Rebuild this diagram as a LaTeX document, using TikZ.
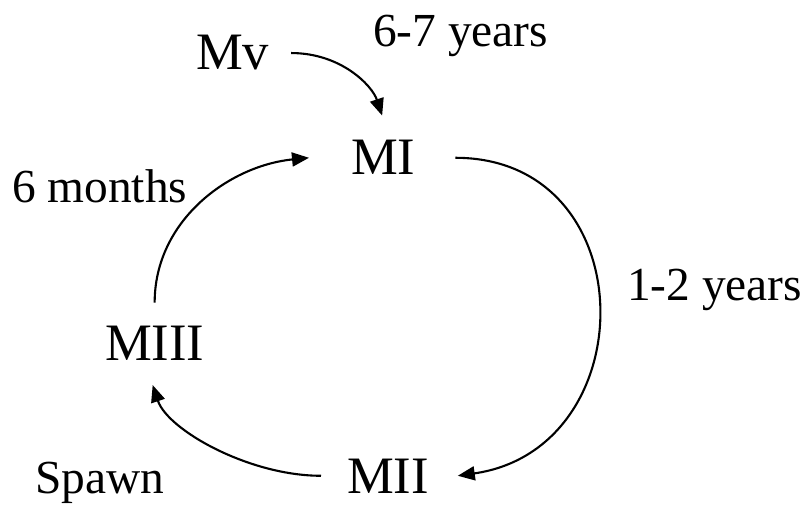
\documentclass[tikz,border=0pt]{standalone}
\usepackage{fontspec}
\setmainfont{Liberation Serif}
\usetikzlibrary{arrows.meta,calc}
\begin{document}
\begin{tikzpicture}[x=0.5pt,y=-0.5pt,
  stage/.style={inner sep=0pt,outer sep=0pt,anchor=base west,font=\fontsize{26.3}{30}\selectfont},
  lbl/.style={inner sep=0pt,outer sep=0pt,anchor=base west,font=\fontsize{23.7}{27}\selectfont},
  conn/.style={line width=1.05pt,-{Triangle[length=8.5pt,width=7pt]}}]
\useasboundingbox (0,0) rectangle (810,508);
\node[stage] (Mv) at (196,70) {Mv};
\node[stage] (MI) at (351,175) {MI};
\node[stage] (MIII) at (105,360) {MIII};
\node[stage] (MII) at (347,493) {MII};
\node[lbl] (t67) at (373,47) {6-7 years};
\node[lbl] (t6m) at (12,203) {6 months};
\node[lbl] (t12) at (627,300) {1-2 years};
\node[lbl] (tsp) at (35,493) {Spawn};
\coordinate (a1) at ($(Mv.east)+(22,0)$);
\coordinate (b1) at ($(MI.north)+(-1,-25)$);
\draw[conn] (a1) .. controls +(50,0) and +(-10,-30) .. (b1);
\coordinate (a2) at ($(MIII.north)+(0,-23)$);
\coordinate (b2) at ($(MI.west)+(-42,0)$);
\draw[conn] (a2) .. controls +(0,-82) and +(-80,8) .. (b2);
\coordinate (a3) at ($(MI.east)+(40,0)$);
\coordinate (b3) at ($(MII.east)+(29,0)$);
\draw[conn] (a3) .. controls +(190,0) and +(188,-27) .. (b3);
\coordinate (a4) at ($(MII.west)+(-26,0)$);
\coordinate (b4) at ($(MIII.south)+(-2,25)$);
\draw[conn] (a4) .. controls +(-72,0) and +(15,45) .. (b4);
\end{tikzpicture}
\end{document}
